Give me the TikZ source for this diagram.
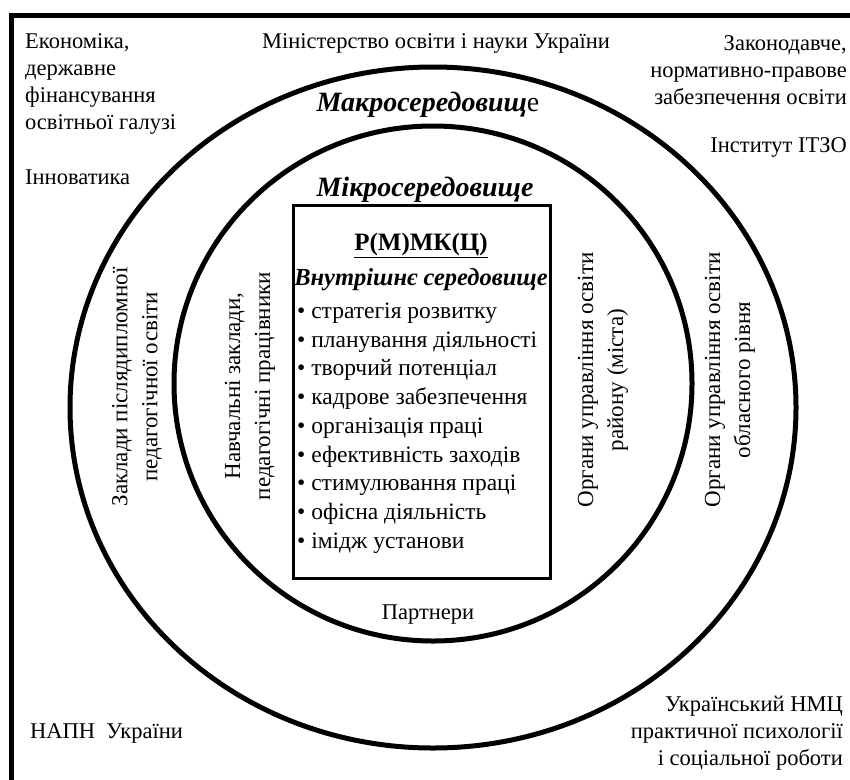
\documentclass[tikz,border=0pt]{standalone}
\usepackage{fontspec}
\setmainfont{Liberation Serif}
\begin{document}
\begin{tikzpicture}[x=1pt, y=-1pt, font=\fontsize{22.5}{27}\selectfont]
  \useasboundingbox (0,0) rectangle (850,779);

  \draw[line width=5pt] (11,800) -- (11,15) -- (870,15);
  \draw[line width=5pt] (433,407.5) ellipse [x radius=363, y radius=340.5];
  \draw[line width=5pt] (433,383.5) ellipse [x radius=259, y radius=257.5];

  \node[draw, line width=3pt, minimum width=257pt, minimum height=373pt] (box) at (421.5,391.5) {};

  \begin{scope}[every node/.style={inner sep=0pt}]
    \node (min) at (436,43) {Міністерство освіти і науки України};
    \node[anchor=west, align=left] (econ) at (25,84) {Економіка,\\державне\\фінансування\\освітньої галузі};
    \node[anchor=east, align=right] (law) at (847,70) {Законодавче,\\нормативно-правове\\забезпечення освіти};
    \node[anchor=east] (itzo) at (847,147) {Інститут ІТЗО};
    \node[anchor=west] (innov) at (25,177) {Інноватика};
    \node[anchor=west] (napn) at (30,733) {НАПН~~України};
    \node[anchor=east, align=right] (nmc) at (843,733) {Український НМЦ\\практичної психології\\і соціальної роботи};
    \node[font=\fontsize{28}{32}\selectfont] (macro) at (428,105) {\textbf{\textit{Макросередовищ}}е};
    \node[font=\fontsize{28}{32}\selectfont] (micro) at (425,190) {\textbf{\textit{Мікросередовище}}};
    \node (partn) at (428,615) {Партнери};
  \end{scope}

  \begin{scope}[every node/.style={inner sep=0pt, rotate=90, align=center, font=\fontsize{23}{30}\selectfont}]
    \node (pdo) at (137,387) {Заклади післядипломної\\педагогічної освіти};
    \node (nz) at (250,386) {Навчальні заклади,\\педагогічні працівники};
    \node (rayon) at (603,380) {Органи управління освіти\\району (міста)};
    \node (oblast) at (730,380) {Органи управління освіти\\обласного рівня};
  \end{scope}

  \node[inner sep=0pt, font=\fontsize{25}{28}\selectfont] (title) at (421,245) {\underline{\textbf{Р(М)МК(Ц)}}};
  \node[inner sep=0pt, font=\fontsize{24.5}{28}\selectfont] (inner) at (421,280) {\textbf{\textit{Внутрішнє середовище}}};
  \node[inner sep=0pt, anchor=west, align=left, font=\fontsize{23.5}{28.75}\selectfont] (list) at (297,428) {%
    \textbullet~стратегія розвитку\\
    \textbullet~планування діяльності\\
    \textbullet~творчий потенціал\\
    \textbullet~кадрове забезпечення\\
    \textbullet~організація праці\\
    \textbullet~ефективність заходів\\
    \textbullet~стимулювання праці\\
    \textbullet~офісна діяльність\\
    \textbullet~імідж установи};
\end{tikzpicture}
\end{document}
